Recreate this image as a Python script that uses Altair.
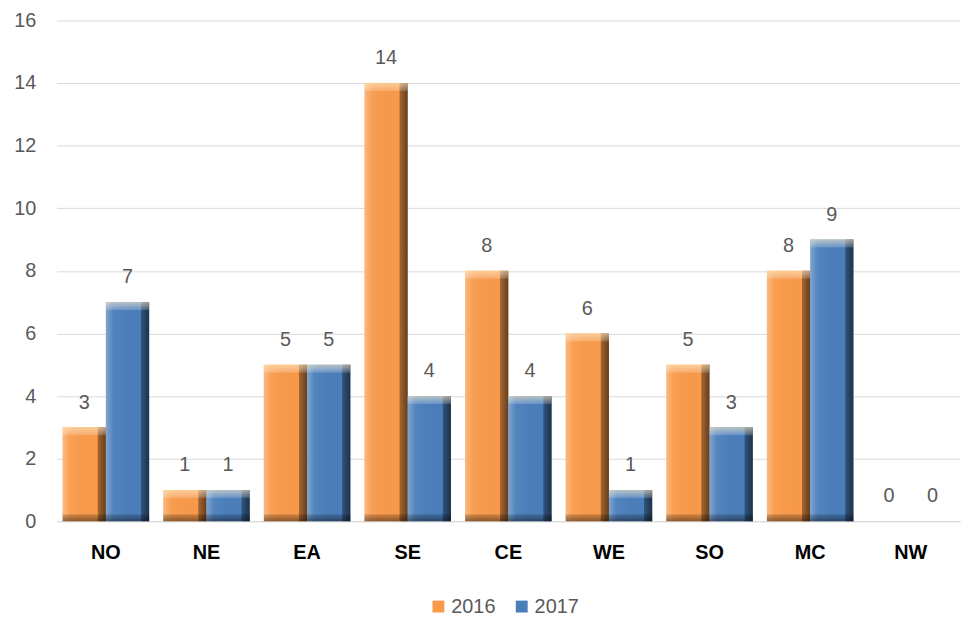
import altair as alt
import pandas as pd

regions = ["NO", "NE", "EA", "SE", "CE", "WE", "SO", "MC", "NW"]
v2016 = [3, 1, 5, 14, 8, 6, 5, 8, 0]
v2017 = [7, 1, 5, 4, 4, 1, 3, 9, 0]
years = ["2016", "2017"]
colors = ["#F99A4A", "#4A7EBB"]

rows = []
for r, a, b in zip(regions, v2016, v2017):
    rows.append({"region": r, "year": "2016", "value": a, "zero": 0})
    rows.append({"region": r, "year": "2017", "value": b, "zero": 0})
df = pd.DataFrame(rows)

FONT = "Liberation Sans"

xscale = alt.Scale(paddingInner=0.14, paddingOuter=0.06)
yscale = alt.Scale(domain=[0, 16])
yaxis = alt.Axis(values=list(range(0, 17, 2)), labelFont=FONT, labelFontSize=20,
                 labelColor="#595959", domain=False, ticks=False, gridColor="#D9D9D9",
                 labelPadding=21)
x = alt.X("region:N", sort=regions, title=None, scale=xscale,
          axis=alt.Axis(labelAngle=0, labelFont=FONT, labelFontSize=20, labelFontWeight="bold",
                        labelColor="#000000", ticks=False, domainColor="#D9D9D9", labelPadding=22))
y = alt.Y("value:Q", title=None, scale=yscale, axis=yaxis)
xo = alt.XOffset("year:N", sort=years)

base = alt.Chart(df)

bars = base.mark_bar().encode(
    x=x, y=y, xOffset=xo,
    color=alt.Color("year:N", scale=alt.Scale(domain=years, range=colors),
                    legend=alt.Legend(orient="none", legendX=375, legendY=581, title=None,
                                      direction="horizontal", symbolType="square", symbolSize=144,
                                      symbolStrokeWidth=0, labelFont=FONT, labelFontSize=20,
                                      labelColor="#595959", columnPadding=16, labelOffset=3)),
)

hgrad = alt.Gradient(
    gradient="linear", x1=0, x2=1, y1=0, y2=0,
    stops=[
        alt.GradientStop(color="rgba(255,255,255,0.30)", offset=0),
        alt.GradientStop(color="rgba(255,255,255,0.05)", offset=0.17),
        alt.GradientStop(color="rgba(0,0,0,0)", offset=0.8),
        alt.GradientStop(color="rgba(0,0,0,0.35)", offset=0.82),
        alt.GradientStop(color="rgba(0,0,0,0.6)", offset=1),
    ],
)
topgrad = alt.Gradient(
    gradient="linear", x1=0, x2=0, y1=0, y2=1,
    stops=[
        alt.GradientStop(color="rgba(255,235,190,0.6)", offset=0),
        alt.GradientStop(color="rgba(255,255,255,0.15)", offset=1),
    ],
)
botgrad = alt.Gradient(
    gradient="linear", x1=0, x2=0, y1=0, y2=1,
    stops=[
        alt.GradientStop(color="rgba(0,0,0,0.15)", offset=0),
        alt.GradientStop(color="rgba(0,0,0,0.45)", offset=1),
    ],
)

nz = alt.datum.value > 0
shade = base.mark_bar(fill=hgrad).encode(x=x, y=y, xOffset=xo).transform_filter(nz)
top = base.mark_bar(fill=topgrad, y2Offset=8).encode(
    x=x, y=y, y2=alt.Y2("value:Q"), xOffset=xo
).transform_filter(nz)
bottom = base.mark_bar(fill=botgrad, yOffset=-7).encode(
    x=x, y=alt.Y("zero:Q", title=None, scale=yscale, axis=yaxis), y2=alt.Y2("zero:Q"), xOffset=xo
).transform_filter(nz)

labels = base.mark_text(dy=-25, font=FONT, fontSize=20, color="#595959").encode(
    x=x, y=y, xOffset=xo, text="value:Q"
)

chart = alt.layer(bars, shade, top, bottom, labels).properties(
    width=911, height=505,
    autosize=alt.AutoSizeParams(type="none"),
    padding={"left": 49, "top": 10, "right": 8, "bottom": 96},
).configure_view(stroke=None)

chart.save("out.html", embed_options={"renderer": "svg", "actions": False})
